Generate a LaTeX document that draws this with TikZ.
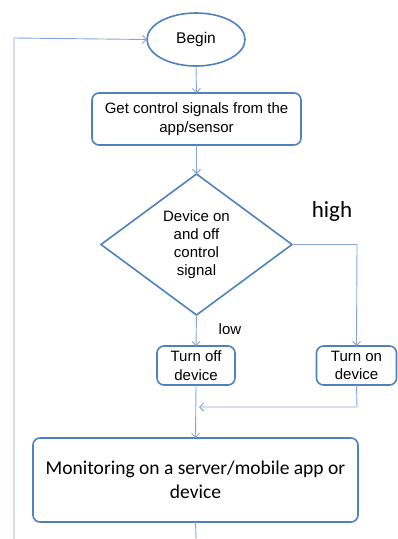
\documentclass[tikz,border=0pt]{standalone}
\usepackage{fontspec}
\setmainfont{Liberation Sans}
\newfontfamily\calibri{Carlito}
\usetikzlibrary{shapes.geometric,arrows.meta}
\definecolor{boxblue}{HTML}{4F81BD}
\definecolor{linkblue}{HTML}{86A4D4}
\begin{document}
\begin{tikzpicture}[x=1pt,y=-1pt,
  every node/.style={inner sep=0pt,outer sep=0pt},
  procbox/.style={draw=boxblue,line width=1.6pt,rounded corners=7pt,fill=white,
    align=center,font=\fontsize{15}{18.5}\selectfont},
  link/.style={draw=linkblue,line width=0.9pt,
    -{Straight Barb[length=4pt,width=8pt,line width=0.9pt]}},
  plainlink/.style={draw=linkblue,line width=0.9pt}]
\useasboundingbox (0,0) rectangle (398,539);

% start terminal
\node[ellipse,draw=boxblue,line width=1.6pt,minimum width=98pt,minimum height=53pt,
  font=\fontsize{15.5}{18}\selectfont] (begin) at (196,39.5) {Begin};

% reading the control input
\node[procbox,minimum width=209pt,minimum height=52pt] (get) at (196.5,119)
  {Get control signals from the\\app/sensor};

% decision
\node[diamond,draw=boxblue,line width=1.6pt,minimum width=191pt,minimum height=141pt,
  align=center,font=\fontsize{15}{18}\selectfont,aspect=1.35] (dec) at (196.5,244.5)
  {Device on\\and off\\control\\signal};

% outcomes
\node[procbox,minimum width=78pt,minimum height=39pt] (off) at (196,365.5)
  {Turn off\\device};
\node[procbox,minimum width=80pt,minimum height=39pt] (on) at (356.5,365.5)
  {Turn on\\device};

% monitoring stage
\node[procbox,minimum width=325pt,minimum height=84pt,
  font=\calibri\fontsize{19.5}{23.5}\selectfont] (mon) at (195.5,480)
  {Monitoring on a server/mobile app or\\device};

% branch labels
\node[font=\calibri\fontsize{23}{25}\selectfont] (high) at (332,211) {high};
\node[font=\fontsize{15}{17}\selectfont] (low) at (230,329) {low};

% helper points
\coordinate (rt) at (357,244.5);
\coordinate (join) at (357,407);
\coordinate (joinend) at (199,407);
\coordinate (loopbot) at (14,539);
\coordinate (looptop) at (14,38);
\coordinate (monbot) at (196,539);

% connectors
\draw[link] (begin.south) -- (get.north);
\draw[link] (get.south) -- (dec.north);
\draw[link] (dec.south) -- (off.north);
\draw[link] (dec.east) -- (rt) -- (on.north);
\draw[link] (off.south) -- (mon.north);
\draw[link] (on.south) -- (join) -- (joinend);
\draw[plainlink] (mon.south) -- (monbot);
\draw[link] (loopbot) -- (looptop) -- (begin.west);
\end{tikzpicture}
\end{document}
